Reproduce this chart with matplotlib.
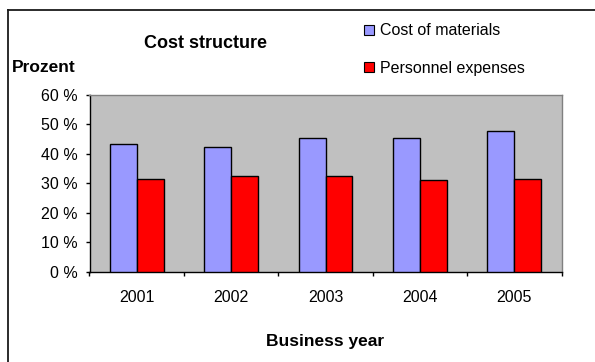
import matplotlib
matplotlib.use("Agg")
import matplotlib.pyplot as plt
from matplotlib.lines import Line2D
from matplotlib.patches import Patch
from matplotlib.ticker import FixedLocator, FuncFormatter

years = ["2001", "2002", "2003", "2004", "2005"]
materials = [43.5, 42.3, 45.5, 45.5, 47.8]
personnel = [31.5, 32.5, 32.5, 31.0, 31.5]
series_names = ["Cost of materials", "Personnel expenses"]

plt.rcParams["font.family"] = ["Liberation Sans", "DejaVu Sans"]
FS = 11.5
FS_BOLD = 12.5

fig = plt.figure(figsize=(5.95, 3.62), dpi=100)
fig.patch.set_facecolor("white")

# outer chart frame (left and top edges)
fig.add_artist(Line2D([7.5 / 595, 7.5 / 595], [0, 1 - 10 / 362], color="#1a1a1a", lw=1.3))
fig.add_artist(Line2D([7.5 / 595, 1], [1 - 10 / 362, 1 - 10 / 362], color="#1a1a1a", lw=1.3))

ax = fig.add_axes([89.5 / 595, 1 - 271.5 / 362, (561.5 - 89.5) / 595, (271.5 - 95) / 362])
ax.set_facecolor("#C0C0C0")

x = list(range(len(years)))
w = 0.286
ax.bar([i - w / 2 for i in x], materials, width=w, color="#9999FF",
       edgecolor="black", linewidth=1.0, zorder=3)
ax.bar([i + w / 2 for i in x], personnel, width=w, color="#FF0000",
       edgecolor="black", linewidth=1.0, zorder=3)

ax.set_xlim(-0.5, len(years) - 0.5)
ax.set_ylim(0, 60)
ax.set_yticks(range(0, 61, 10))
ax.yaxis.set_major_formatter(FuncFormatter(lambda v, p: f"{v:.0f} %"))

# ticks sit between categories, labels at category centres
ax.xaxis.set_major_locator(FixedLocator([i + 0.5 for i in range(-1, len(years))]))
ax.xaxis.set_major_formatter(FuncFormatter(lambda v, p: ""))
ax.xaxis.set_minor_locator(FixedLocator(x))
ax.set_xticklabels(years, minor=True)
ax.tick_params(axis="x", which="major", direction="out", length=3, width=1, color="black")
ax.tick_params(axis="x", which="minor", length=0, pad=13, labelsize=FS)
ax.tick_params(axis="y", direction="out", length=3, width=1, pad=5.5, labelsize=FS, color="black")

for side in ("top", "right"):
    ax.spines[side].set_color("#808080")
    ax.spines[side].set_linewidth(1.0)
for side in ("left", "bottom"):
    ax.spines[side].set_color("black")
    ax.spines[side].set_linewidth(1.0)

ax.set_xlabel("Business year", fontsize=FS_BOLD, fontweight="bold", labelpad=21)

fig.text(205 / 595, 1 - 43 / 362, "Cost structure", ha="center", va="center",
         fontsize=13, fontweight="bold")
fig.text(12 / 595, 1 - 68 / 362, "Prozent", ha="left", va="center",
         fontsize=FS_BOLD, fontweight="bold")

handles = [Patch(facecolor="#9999FF", edgecolor="black", linewidth=0.8),
           Patch(facecolor="#FF0000", edgecolor="black", linewidth=0.8)]
fig.legend(handles, series_names, loc="center left",
           bbox_to_anchor=(356 / 595, 1 - 49.5 / 362), frameon=False,
           fontsize=FS, borderpad=0, handlelength=0.62, handleheight=0.62,
           handletextpad=0.4, labelspacing=1.4)

fig.savefig("out.png", dpi=100, facecolor="white")
